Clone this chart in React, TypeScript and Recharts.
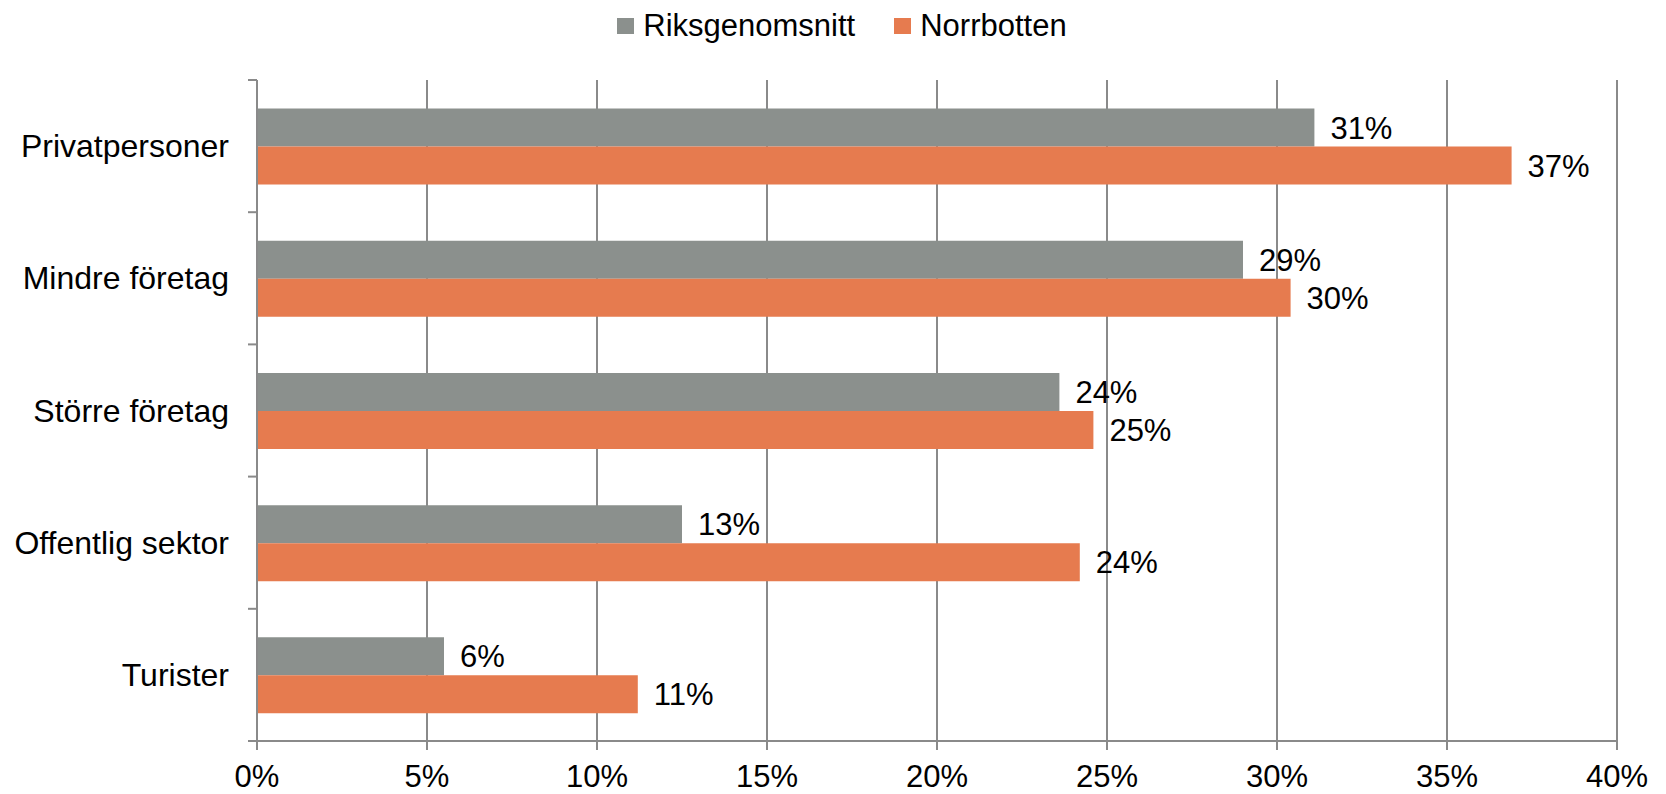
import * as React from 'react';
import { BarChart, Bar, XAxis, YAxis, CartesianGrid, Legend, LabelList } from 'recharts';

// kategorier och andelar (procent)
const categories = ['Privatpersoner', 'Mindre företag', 'Större företag', 'Offentlig sektor', 'Turister'];
const riksgenomsnitt = [31.1, 29.0, 23.6, 12.5, 5.5];
const norrbotten = [36.9, 30.4, 24.6, 24.2, 11.2];
const xTicks = [0, 5, 10, 15, 20, 25, 30, 35, 40];

const series = [
  { key: 'riks', name: 'Riksgenomsnitt', color: '#8b908d' },
  { key: 'norr', name: 'Norrbotten', color: '#e67b4f' }
];

const data = categories.map((name, i) => ({
  name,
  riks: riksgenomsnitt[i],
  norr: norrbotten[i]
}));

const W = 1666;
const H = 794;
const FONT = '"Liberation Sans", Arial, sans-serif';
const AXIS = '#8a8a8a';
const margin = { top: 80, right: 49, bottom: 0, left: 0 };
const yAxisWidth = 257;
const xAxisHeight = 53;
const tickSize = 9;
const tickMargin = 19;
const bandH = (H - margin.top - margin.bottom - xAxisHeight) / categories.length;

function CategoryTick(props: any) {
  const { x, y, payload, index } = props;
  const ax = x + tickMargin + tickSize;
  const top = y - bandH / 2;
  const bottom = y + bandH / 2;
  return (
    <g>
      <line x1={ax - tickSize} x2={ax} y1={top} y2={top} stroke={AXIS} strokeWidth={2} />
      {index === categories.length - 1 && (
        <line x1={ax - tickSize} x2={ax} y1={bottom} y2={bottom} stroke={AXIS} strokeWidth={2} />
      )}
      <text x={x} y={y} textAnchor="end" dominantBaseline="central" fontSize={32} fontFamily={FONT} fill="#000">
        {payload.value}
      </text>
    </g>
  );
}

function LegendContent() {
  return (
    <div style={{ display: 'flex', justifyContent: 'center', alignItems: 'center', height: 40, paddingLeft: 18, fontFamily: FONT, fontSize: 31, color: '#000' }}>
      {series.map((s, i) => (
        <div key={s.key} style={{ display: 'flex', alignItems: 'center', marginRight: i === 0 ? 39 : 0 }}>
          <span style={{ display: 'inline-block', width: 17, height: 16, background: s.color, marginRight: 9 }} />
          <span style={{ lineHeight: '36px' }}>{s.name}</span>
        </div>
      ))}
    </div>
  );
}

const fmt = (v: any) => Math.round(Number(v)) + '%';

export default function App() {
  return (
    <div style={{ position: 'absolute', top: 0, left: 0, width: W, height: H, background: '#fff' }}>
      <BarChart
        width={W}
        height={H}
        data={data}
        layout="vertical"
        margin={margin}
        barCategoryGap="21.6%"
        barGap={0}
      >
        <CartesianGrid horizontal={false} stroke={AXIS} strokeWidth={2} />
        <XAxis
          type="number"
          domain={[0, 40]}
          ticks={xTicks}
          tickFormatter={(v) => v + '%'}
          height={xAxisHeight}
          stroke={AXIS}
          strokeWidth={2}
          tickSize={tickSize}
          tickMargin={15}
          tick={{ fill: '#000', fontSize: 31, fontFamily: FONT }}
          interval={0}
        />
        <YAxis
          type="category"
          dataKey="name"
          width={yAxisWidth}
          stroke={AXIS}
          strokeWidth={2}
          tickLine={false}
          tickSize={tickSize}
          tickMargin={tickMargin}
          tick={<CategoryTick />}
          interval={0}
        />
        <Legend
          verticalAlign="middle"
          align="center"
          content={<LegendContent />}
          wrapperStyle={{ top: 6, left: 0, width: W }}
        />
        {series.map((s) => (
          <Bar key={s.key} dataKey={s.key} name={s.name} fill={s.color} isAnimationActive={false}>
            <LabelList
              dataKey={s.key}
              position="right"
              offset={16}
              formatter={fmt}
              fill="#000"
              fontSize={31}
              fontFamily={FONT}
            />
          </Bar>
        ))}
      </BarChart>
    </div>
  );
}
